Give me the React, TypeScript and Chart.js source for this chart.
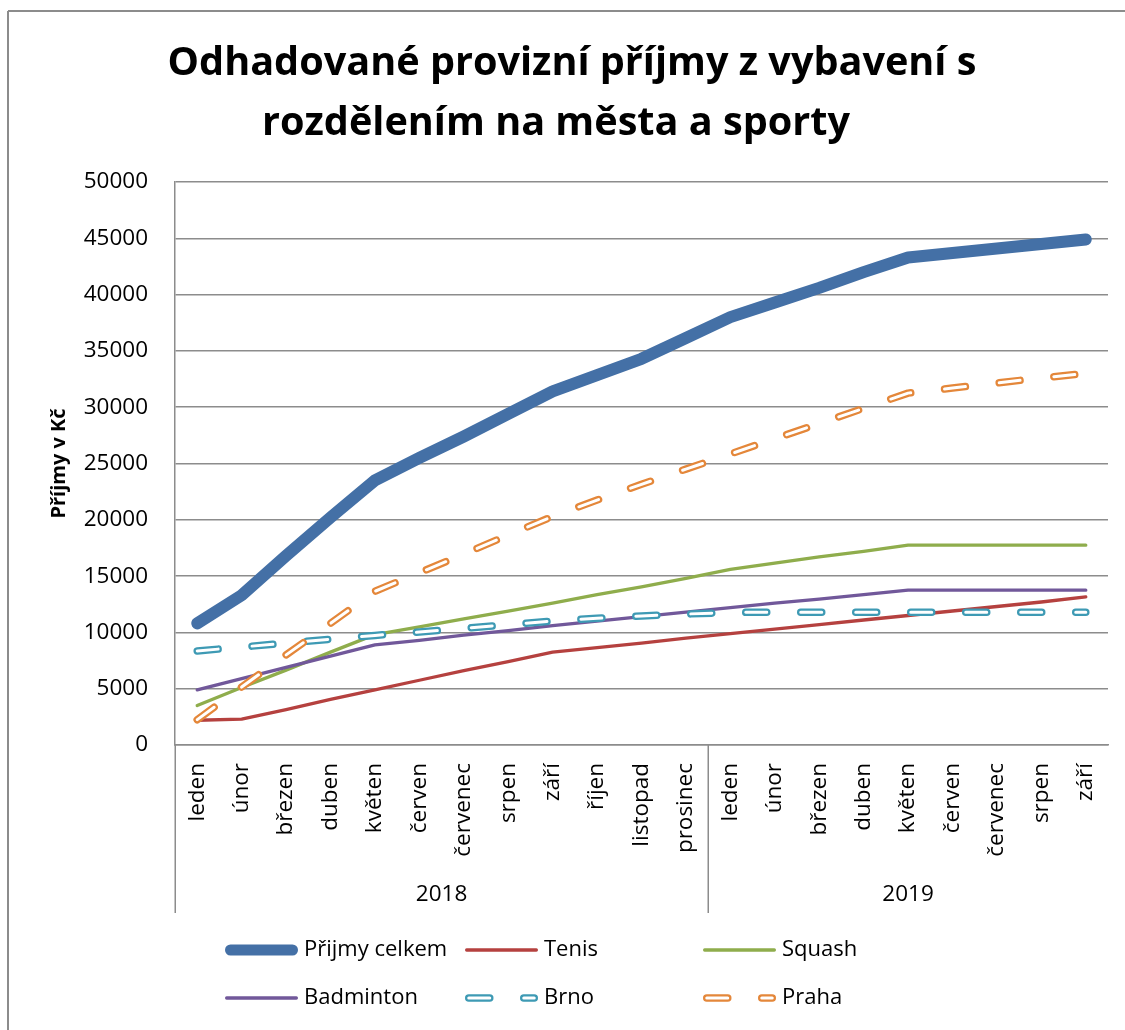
import React, { useEffect, useRef } from "react";
import { Chart, registerables } from "chart.js";

Chart.register(...registerables);

const W = 1125;
const H = 1030;

const titleLines = ["Odhadované provizní příjmy z vybavení s", "rozdělením na města a sporty"];
const yAxisTitle = "Příjmy v Kč";

const months2018 = ["leden", "únor", "březen", "duben", "květen", "červen", "červenec", "srpen", "září", "říjen", "listopad", "prosinec"];
const months2019 = ["leden", "únor", "březen", "duben", "květen", "červen", "červenec", "srpen", "září"];
const yearGroups = ["2018", "2019"];
const groupSizes = [months2018.length, months2019.length];
const categories = [...months2018, ...months2019];

const prijmyCelkem = [10800, 13300, 16800, 20200, 23500, 25500, 27400, 29400, 31400, 32850, 34300, 36150, 38000, 39300, 40600, 42000, 43300, 43700, 44100, 44500, 44900];
const tenis = [2200, 2300, 3150, 4050, 4900, 5750, 6600, 7400, 8250, 8650, 9050, 9500, 9900, 10300, 10700, 11100, 11500, 11900, 12300, 12700, 13150];
const squash = [3500, 5100, 6650, 8250, 9800, 10500, 11200, 11900, 12600, 13350, 14050, 14800, 15600, 16150, 16700, 17200, 17750, 17750, 17750, 17750, 17750];
const badminton = [4900, 5900, 6900, 7900, 8900, 9300, 9750, 10150, 10600, 11000, 11400, 11800, 12200, 12600, 12950, 13350, 13750, 13750, 13750, 13750, 13750];
const brno = [8350, 8700, 9050, 9400, 9730, 10030, 10360, 10690, 11010, 11260, 11460, 11630, 11770, 11800, 11800, 11800, 11800, 11800, 11800, 11800, 11800];
const praha = [2250, 5150, 8000, 10800, 13650, 15300, 16950, 18650, 20300, 21750, 23150, 24500, 25850, 27200, 28550, 29900, 31250, 31700, 32150, 32600, 33000];

const yMin = 0;
const yMax = 50000;
const yStep = 5000;

const BLUE = "#4470A6";
const RED = "#B5413F";
const GREEN = "#8FAD4C";
const PURPLE = "#71589A";
const TEAL = "#3E9AB4";
const ORANGE = "#E4873A";
const GRID = "#8c8c8c";
const FONT = "'Open Sans', 'Noto Sans', sans-serif";

const framePlugin = {
  id: "frame",
  beforeDraw(chart: any) {
    const ctx = chart.ctx;
    ctx.save();
    ctx.fillStyle = "#fff";
    ctx.fillRect(0, 0, chart.width, chart.height);
    ctx.strokeStyle = GRID;
    ctx.lineWidth = 2;
    ctx.beginPath();
    ctx.moveTo(8, 11);
    ctx.lineTo(chart.width, 11);
    ctx.moveTo(8, 11);
    ctx.lineTo(8, chart.height);
    ctx.stroke();
    ctx.restore();
  },
};

const titleCenters = [572, 556];

const titlePlugin = {
  id: "bigTitle",
  afterDraw(chart: any) {
    const ctx = chart.ctx;
    ctx.save();
    ctx.font = `bold 100px ${FONT}`;
    const w = ctx.measureText(titleLines[0]).width;
    const size = (100 * 809) / w;
    ctx.font = `bold ${size}px ${FONT}`;
    ctx.fillStyle = "#000";
    ctx.textAlign = "center";
    ctx.textBaseline = "middle";
    titleLines.forEach((t, i) => ctx.fillText(t, titleCenters[i], 64 + i * 60));
    ctx.restore();
  },
};

const hollowPlugin = {
  id: "hollow",
  afterDatasetDraw(chart: any, args: any) {
    const ds = chart.data.datasets[args.index];
    if (!ds.hollow) return;
    const pts = args.meta.data;
    const ctx = chart.ctx;
    const a = chart.chartArea;
    ctx.save();
    ctx.beginPath();
    ctx.rect(a.left, a.top - 10, a.right - a.left, a.bottom - a.top + 20);
    ctx.clip();
    ctx.beginPath();
    pts.forEach((p: any, i: number) => (i ? ctx.lineTo(p.x, p.y) : ctx.moveTo(p.x, p.y)));
    ctx.setLineDash(ds.borderDash);
    ctx.lineDashOffset = 0;
    ctx.lineWidth = ds.innerWidth;
    ctx.strokeStyle = "#fff";
    ctx.lineCap = "round";
    ctx.lineJoin = "round";
    ctx.stroke();
    ctx.restore();
  },
};

const groupAxisPlugin = {
  id: "groupAxis",
  afterDraw(chart: any) {
    const ctx = chart.ctx;
    const xs = chart.scales.x;
    const a = chart.chartArea;
    const step = xs.getPixelForValue(1) - xs.getPixelForValue(0);
    ctx.save();
    ctx.strokeStyle = GRID;
    ctx.lineWidth = 1.5;
    ctx.fillStyle = "#000";
    ctx.font = `22.5px ${FONT}`;
    ctx.textAlign = "center";
    ctx.textBaseline = "middle";
    let start = 0;
    yearGroups.forEach((g, gi) => {
      const n = groupSizes[gi];
      const x0 = xs.getPixelForValue(start) - step / 2;
      const x1 = xs.getPixelForValue(start + n - 1) + step / 2;
      ctx.beginPath();
      ctx.moveTo(Math.round(x0) + 0.25, a.bottom);
      ctx.lineTo(Math.round(x0) + 0.25, a.bottom + 168);
      ctx.stroke();
      ctx.fillText(g, (x0 + x1) / 2, a.bottom + 150);
      start += n;
    });
    ctx.restore();
  },
};

const legendCols = [225, 465, 703];
const legendRows = [950, 998];

const legendPlugin = {
  id: "customLegend",
  afterDraw(chart: any) {
    const ctx = chart.ctx;
    ctx.save();
    chart.data.datasets.forEach((ds: any, i: number) => {
      const cx = legendCols[i % 3];
      const cy = legendRows[Math.floor(i / 3)];
      const lw = ds.legendWidth || ds.borderWidth;
      const len = 73;
      ctx.lineCap = "round";
      ctx.beginPath();
      ctx.moveTo(cx + lw / 2, cy);
      ctx.lineTo(cx + len - lw / 2, cy);
      ctx.strokeStyle = ds.borderColor;
      ctx.lineWidth = lw;
      ctx.setLineDash(ds.hollow ? ds.borderDash : []);
      ctx.stroke();
      if (ds.hollow) {
        ctx.strokeStyle = "#fff";
        ctx.lineWidth = ds.innerWidth;
        ctx.stroke();
      }
      ctx.setLineDash([]);
      ctx.fillStyle = "#000";
      ctx.font = `22px ${FONT}`;
      ctx.textAlign = "left";
      ctx.textBaseline = "middle";
      ctx.fillText(ds.label, cx + 79, cy);
    });
    ctx.restore();
  },
};

const common = {
  pointRadius: 0,
  pointHoverRadius: 0,
  tension: 0,
  fill: false,
  borderCapStyle: "round",
  borderJoinStyle: "round",
};

export default function App() {
  const ref = useRef<HTMLCanvasElement>(null);

  useEffect(() => {
    const canvas = ref.current;
    if (!canvas) return;
    const chart = new Chart(canvas, {
      type: "line",
      data: {
        labels: categories,
        datasets: [
          { ...common, label: "Přijmy celkem", data: prijmyCelkem, borderColor: BLUE, backgroundColor: BLUE, borderWidth: 12, legendWidth: 11, order: 5 },
          { ...common, label: "Tenis", data: tenis, borderColor: RED, backgroundColor: RED, borderWidth: 3.3, order: 4 },
          { ...common, label: "Squash", data: squash, borderColor: GREEN, backgroundColor: GREEN, borderWidth: 3.3, order: 3 },
          { ...common, label: "Badminton", data: badminton, borderColor: PURPLE, backgroundColor: PURPLE, borderWidth: 3.3, order: 2 },
          { ...common, label: "Brno", data: brno, borderColor: TEAL, backgroundColor: TEAL, borderWidth: 7.5, borderDash: [21, 34], hollow: true, innerWidth: 3, order: 1 },
          { ...common, label: "Praha", data: praha, borderColor: ORANGE, backgroundColor: ORANGE, borderWidth: 7.5, borderDash: [21, 34], hollow: true, innerWidth: 3, order: 0 },
        ] as any,
      },
      options: {
        responsive: false,
        animation: false,
        events: [],
        layout: { padding: { top: 182, right: 17, bottom: 0, left: 0 } },
        plugins: {
          legend: { display: false },
          title: { display: false },
          tooltip: { enabled: false },
        },
        scales: {
          x: {
            type: "category",
            offset: true,
            grid: { display: false, drawTicks: false },
            border: { display: true, color: GRID, width: 1.5 },
            ticks: {
              autoSkip: false,
              minRotation: 90,
              maxRotation: 90,
              color: "#000",
              font: { family: FONT, size: 22.5 },
              padding: 18,
            },
            afterFit: (s: any) => {
              s.height = H - 745;
              s.paddingLeft = 0;
              s.paddingRight = 0;
            },
          },
          y: {
            min: yMin,
            max: yMax,
            grid: { color: GRID, lineWidth: 1.5, drawTicks: false },
            border: { display: true, color: GRID, width: 1.5 },
            ticks: {
              stepSize: yStep,
              color: "#000",
              font: { family: FONT, size: 22.5 },
              padding: 27,
              callback: (v: any) => String(v),
            },
            title: {
              display: true,
              text: yAxisTitle,
              color: "#000",
              font: { family: FONT, size: 20, weight: "bold" },
              padding: { top: 47, bottom: 0 },
            },
            afterFit: (s: any) => {
              s.width = 175;
            },
          },
        },
      } as any,
      plugins: [framePlugin, hollowPlugin, groupAxisPlugin, legendPlugin, titlePlugin],
    });
    return () => chart.destroy();
  }, []);

  return (
    <div style={{ position: "fixed", left: 0, top: 0, width: W, height: H, background: "#fff" }}>
      <canvas ref={ref} width={W} height={H} style={{ display: "block", width: W, height: H }} />
    </div>
  );
}
